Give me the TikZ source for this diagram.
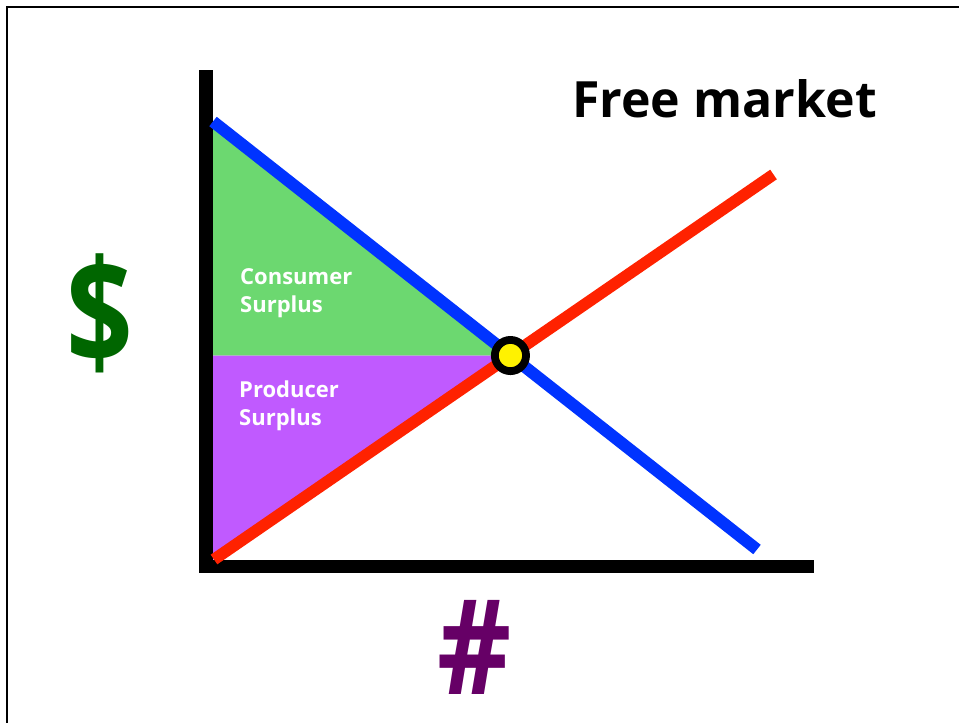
\documentclass[tikz,border=0pt]{standalone}
\usepackage{fontspec}
\setmainfont{Open Sans}
\definecolor{cgreen}{HTML}{6CD870}
\definecolor{cpurple}{HTML}{C05AFF}
\definecolor{cblue}{HTML}{0033FF}
\definecolor{cred}{HTML}{FF2200}
\definecolor{cdollar}{HTML}{006600}
\definecolor{chash}{HTML}{660066}
\tikzset{
  axisline/.style={line width=13.5pt, line join=miter, black},
  demand/.style={line width=12pt, cblue},
  supply/.style={line width=11.7pt, cred},
  areatext/.style={white, anchor=base west, inner sep=0pt, font=\fontsize{22}{26}\selectfont\bfseries},
}
\begin{document}
\begin{tikzpicture}[x=1pt,y=-1pt]
\useasboundingbox (0,0) rectangle (959,723);
% frame
\draw[line width=1.6pt] (6.7,723) -- (6.7,7) -- (959,7);
% key points
\coordinate (A0) at (206,0);
\coordinate (B1) at (213,121.5);
\coordinate (B2) at (757,549.5);
\coordinate (R1) at (214,559.5);
\coordinate (R2) at (773.5,174.5);
\coordinate (E) at (intersection of B1--B2 and R1--R2);
% areas
\fill[cgreen] (A0 |- B1) -- (B1) -- (E) -- (A0 |- E) -- cycle;
\fill[cpurple] (A0 |- E) -- (E) -- (R1) -- (A0 |- R1) -- cycle;
% axes
\coordinate (Ytop) at (206,70);
\coordinate (O) at (206,566.3);
\coordinate (Xend) at (814.3,566.3);
\draw[axisline] (Ytop) -- (O) -- (Xend);
% curves
\draw[demand] (B1) -- (B2);
\draw[supply] (R1) -- (R2);
% equilibrium
\node[circle, draw=black, line width=7.8pt, fill=yellow, minimum size=31.2pt, inner sep=0pt] (eq) at (E) {};
% texts
\node[anchor=base west, inner sep=0pt, font=\fontsize{50}{60}\selectfont\bfseries] (title) at (572,117.3) {Free market};
\node[areatext] (cs1) at (240,284) {Consumer};
\node[areatext] (cs2) at (240,312) {Surplus};
\node[areatext] (ps1) at (239,397.7) {Producer};
\node[areatext] (ps2) at (239,425.7) {Surplus};
\node[cdollar, inner sep=0pt, font=\fontsize{146}{160}\selectfont\bfseries] (dollar) at (99.5,313) {\scalebox{0.8}[1]{\$}};
\node[chash, inner sep=0pt, font=\fontsize{132}{150}\selectfont\bfseries] (hash) at (474.5,647.3) {\scalebox{0.87}[1]{\#}};
\end{tikzpicture}
\end{document}
